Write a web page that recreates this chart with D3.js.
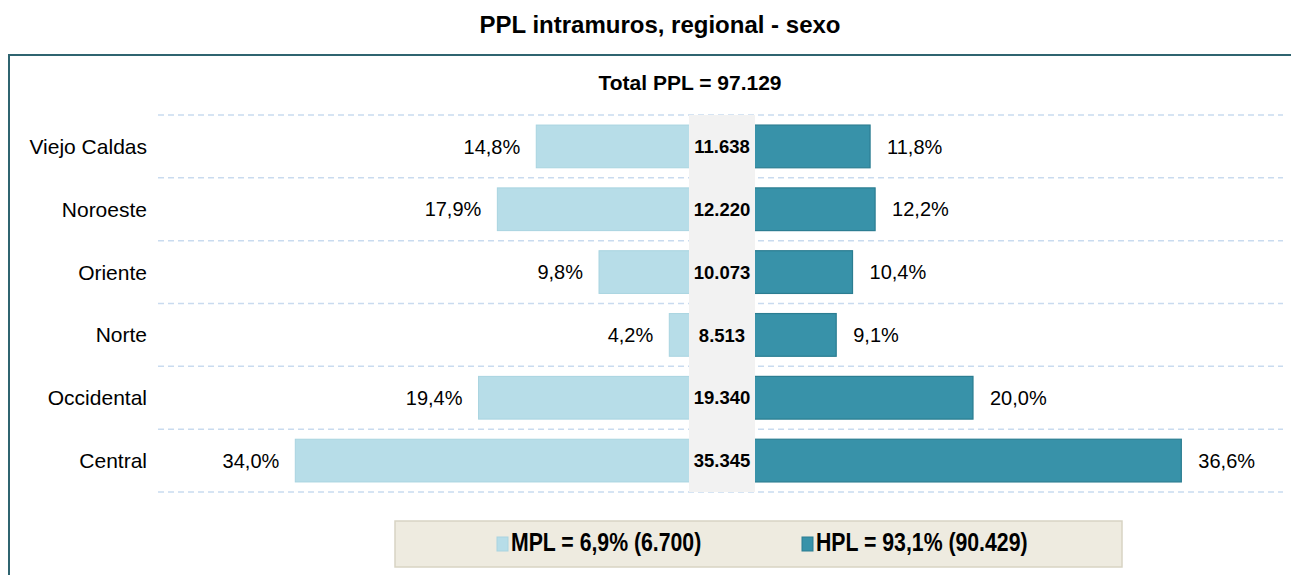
<!DOCTYPE html>
<meta charset="utf-8">
<html>
<script src="https://d3js.org/d3.v7.min.js"></script>
<style>
  body { margin: 0; background: #fff; overflow: hidden; }
  svg { display: block; }
  text { font-family: "Liberation Sans", Arial, sans-serif; fill: #000; }
</style>
<body>
<div id="chart"></div>
<script>

    // data
    const regiones = ["Viejo Caldas", "Noroeste", "Oriente", "Norte", "Occidental", "Central"]
    const mujeres = [14.8, 17.9, 9.8, 4.2, 19.4, 34.0]   // % of MPL
    const hombres = [11.8, 12.2, 10.4, 9.1, 20.0, 36.6]  // % of HPL
    const totales = [11638, 12220, 10073, 8513, 19340, 35345]
    const totalPPL = 97129
    const leyenda = ["MPL = 6,9% (6.700)", "HPL = 93,1% (90.429)"]

    const width = 1291, height = 575
    const colMPL = "#b7dde8", colHPL = "#3892a9"

    const es = d3.formatLocale({decimal: ",", thousands: ".", grouping: [3], currency: ["$", ""]})
    const fmtPct = v => es.format(".1f")(v) + "%"
    const fmtNum = es.format(",d")

    const svg = d3.select("#chart")
      .append("svg")
        .attr("width", width)
        .attr("height", height)

    // title
    svg.append("text")
      .attr("x", 660).attr("y", 33)
      .attr("text-anchor", "middle")
      .style("font-size", "24px").style("font-weight", "bold")
      .text("PPL intramuros, regional - sexo")

    // frame: only the top and left edges are inside the picture
    svg.append("path")
      .attr("d", `M9,${height} V55 H${width}`)
      .attr("fill", "none")
      .attr("stroke", "#2f6470")
      .attr("stroke-width", 2)

    svg.append("text")
      .attr("x", 690).attr("y", 90)
      .attr("text-anchor", "middle")
      .style("font-size", "21px").style("font-weight", "bold")
      .text("Total PPL = " + fmtNum(totalPPL))

    // scales
    const cx = 722
    const y = d3.scaleBand()
      .domain(regiones)
      .range([115, 492])
      .paddingInner(0.32)
      .paddingOuter(0.16)
    const x = d3.scaleLinear()
      .domain([0, 40])
      .range([0, 502])

    const rows = regiones.map((r, i) => ({r: r, m: mujeres[i], h: hombres[i], t: totales[i]}))

    // grid lines between rows
    const lines = regiones.map(r => y(r) - y.step() * y.paddingInner() / 2)
    lines.push(y.range()[1])
    svg.selectAll(".grid")
      .data(lines)
      .join("line")
        .attr("x1", 158).attr("x2", 1283)
        .attr("y1", d => d).attr("y2", d => d)
        .attr("stroke", "#c9dbef")
        .attr("stroke-width", 1.5)
        .attr("stroke-dasharray", "6,4")

    // bars
    svg.selectAll(".mpl")
      .data(rows)
      .join("rect")
        .attr("x", d => cx - x(d.m))
        .attr("y", d => y(d.r))
        .attr("width", d => x(d.m))
        .attr("height", y.bandwidth())
        .attr("fill", colMPL)
        .attr("stroke", "#a9d4e0")
        .attr("stroke-width", 1)

    svg.selectAll(".hpl")
      .data(rows)
      .join("rect")
        .attr("x", cx)
        .attr("y", d => y(d.r))
        .attr("width", d => x(d.h))
        .attr("height", y.bandwidth())
        .attr("fill", colHPL)
        .attr("stroke", "#2b7d91")
        .attr("stroke-width", 1.2)

    // grey centre column with totals
    svg.append("rect")
      .attr("x", cx - 33).attr("y", 115)
      .attr("width", 66).attr("height", 377)
      .attr("fill", "#f2f2f2")

    svg.selectAll(".tot")
      .data(rows)
      .join("text")
        .attr("x", cx)
        .attr("y", d => y(d.r) + y.bandwidth() / 2)
        .attr("dy", "0.36em")
        .attr("text-anchor", "middle")
        .style("font-size", "18.5px").style("font-weight", "bold")
        .text(d => fmtNum(d.t))

    // percentage labels
    svg.selectAll(".lm")
      .data(rows)
      .join("text")
        .attr("x", d => cx - x(d.m) - 16)
        .attr("y", d => y(d.r) + y.bandwidth() / 2)
        .attr("dy", "0.36em")
        .attr("text-anchor", "end")
        .style("font-size", "20px")
        .text(d => fmtPct(d.m))

    svg.selectAll(".lh")
      .data(rows)
      .join("text")
        .attr("x", d => cx + x(d.h) + 17)
        .attr("y", d => y(d.r) + y.bandwidth() / 2)
        .attr("dy", "0.36em")
        .style("font-size", "20px")
        .text(d => fmtPct(d.h))

    // category labels
    svg.selectAll(".cat")
      .data(rows)
      .join("text")
        .attr("x", 147)
        .attr("y", d => y(d.r) + y.bandwidth() / 2)
        .attr("dy", "0.36em")
        .attr("text-anchor", "end")
        .style("font-size", "21px")
        .text(d => d.r)

    // legend box
    svg.append("rect")
      .attr("x", 395).attr("y", 521)
      .attr("width", 727).attr("height", 46)
      .attr("fill", "#eeebe0")
      .attr("stroke", "#d8d4c3")
      .attr("stroke-width", 1.5)

    const leg = svg.selectAll(".leg")
      .data([{t: leyenda[0], c: colMPL, s: "#a9d4e0", x: 497}, {t: leyenda[1], c: colHPL, s: "#2b7d91", x: 802}])
      .join("g")
        .attr("transform", d => `translate(${d.x},0)`)
    leg.append("rect")
      .attr("x", 0).attr("y", 537)
      .attr("width", 11).attr("height", 14)
      .attr("fill", d => d.c)
      .attr("stroke", d => d.s)
    // condensed bold text, as in the original legend
    leg.append("text")
      .attr("transform", "translate(14,551) scale(0.85,1)")
      .style("font-size", "25px").style("font-weight", "bold")
      .text(d => d.t)

</script>
</body>
</html>
